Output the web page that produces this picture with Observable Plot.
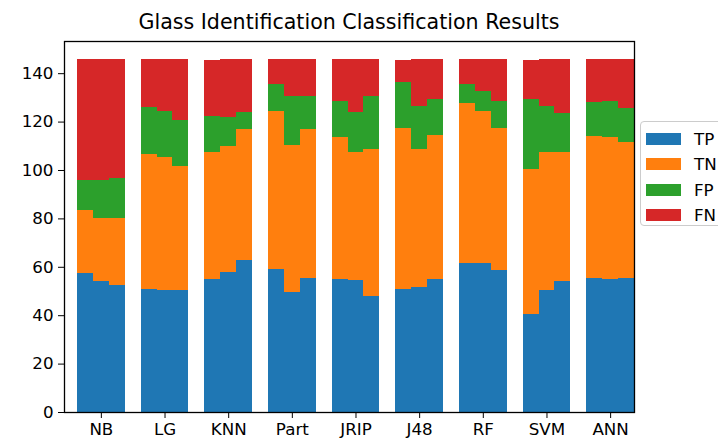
<!DOCTYPE html>
<html>
<head>
<meta charset="utf-8">
<script src="https://cdn.jsdelivr.net/npm/d3@7"></script>
<script src="https://cdn.jsdelivr.net/npm/@observablehq/plot@0.6"></script>
<style>
  html, body { margin: 0; padding: 0; background: #fff; overflow: hidden; }
  #wrap { position: relative; width: 718px; height: 441px; font-family: "DejaVu Sans", sans-serif; }
  #title { position: absolute; left: 64px; width: 570px; top: 10px; text-align: center; font-size: 20.6px; color: #000; white-space: nowrap; }
  #legend { position: absolute; left: 640px; top: 121px; width: 110px; height: 105px; border: 1px solid #cccccc; border-radius: 4px; background: rgba(255,255,255,0.8); box-sizing: border-box; }
  .item { position: absolute; left: 5px; height: 20px; display: flex; align-items: center; font-size: 16.7px; color: #000; }
  .sw { width: 35px; height: 12px; margin-right: 13px; }
</style>
</head>
<body>
<div id="wrap">
  <div id="chart"></div>
  <div id="title"></div>
  <div id="legend"></div>
</div>
<script>
const titleText = "Glass Identification Classification Results";
const categories = ["NB","LG","KNN","Part","JRIP","J48","RF","SVM","ANN"];
const seriesNames = ["TP","TN","FP","FN"];
const seriesColors = ["#1f77b4","#ff7f0e","#2ca02c","#d62728"];
const yTicks = [0,20,40,60,80,100,120,140];

// three adjacent sub-bars per category
const TP = [57.5,54,52.5, 51,50.5,50.5, 55,58,63, 59,49.5,55.5, 55,54.5,48, 51,51.5,55, 61.5,61.5,58.5, 40.5,50.5,54, 55.5,55,55.5];
const TN = [26,26,27.5, 55.5,55,51, 52.5,52,54, 65.5,61,61.5, 58.5,53,60.5, 66.5,57,59.5, 66,63,59, 60,57,53.5, 58.5,58.5,56];
const FP = [12.5,16,16.5, 19.5,19,19, 15,12,7, 11,20,13.5, 15,16.5,22, 19,18,15, 8,8,11, 29,19,16, 14,15,14];
const FN = [50,50,49.5, 20,21.5,25.5, 23,24,22, 10.5,15.5,15.5, 17.5,22,15.5, 9,19.5,16.5, 10.5,13.5,17.5, 16,19.5,22.5, 18,17.5,20.5];

const seriesValues = [TP, TN, FP, FN];
const subWidth = 0.25;
const rows = [];
categories.forEach((c, ci) => {
  for (let s = 0; s < 3; s++) {
    const k = ci * 3 + s;
    const x1 = ci + (s - 1) * subWidth - subWidth / 2;
    let base = 0;
    seriesNames.forEach((name, si) => {
      const v = seriesValues[si][k];
      rows.push({cat: c, sub: s, series: name, x1, x2: x1 + subWidth, y1: base, y2: base + v});
      base += v;
    });
  }
});

const maxTotal = d3.max(d3.range(27), k => TP[k] + TN[k] + FP[k] + FN[k]);

const chart = Plot.plot({
  width: 718,
  height: 441,
  marginTop: 41,
  marginBottom: 29,
  marginLeft: 64,
  marginRight: 84,
  style: {fontFamily: "DejaVu Sans, sans-serif", fontSize: "16.7px", color: "#000", background: "#fff"},
  x: {type: "linear", domain: [-0.579, 8.375]},
  y: {domain: [0, maxTotal * 1.05]},
  color: {domain: seriesNames, range: seriesColors},
  marks: [
    Plot.rect(rows, {x1: "x1", x2: "x2", y1: "y1", y2: "y2", fill: "series", shapeRendering: "crispEdges"}),
    Plot.frame({stroke: "#000", strokeWidth: 1.3}),
    Plot.axisX({ticks: d3.range(categories.length), tickFormat: i => categories[i], tickSize: 6, tickPadding: 5, label: null, fontSize: 16.7}),
    Plot.axisY({ticks: yTicks, tickSize: 6, tickPadding: 5, label: null, fontSize: 16.7})
  ]
});
document.getElementById("chart").appendChild(chart);

document.getElementById("title").textContent = titleText;
const legend = document.getElementById("legend");
seriesNames.forEach((name, i) => {
  const item = document.createElement("div");
  item.className = "item";
  item.style.top = (7 + i * 25.3) + "px";
  const sw = document.createElement("div");
  sw.className = "sw";
  sw.style.background = seriesColors[i];
  item.appendChild(sw);
  const t = document.createElement("span");
  t.textContent = name;
  item.appendChild(t);
  legend.appendChild(item);
});
</script>
</body>
</html>
